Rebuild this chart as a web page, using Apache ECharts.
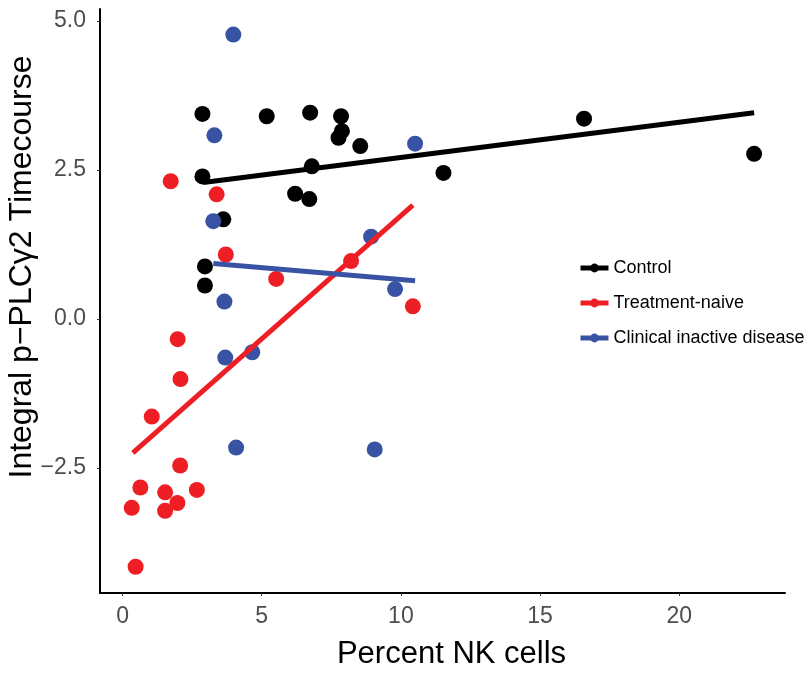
<!DOCTYPE html>
<html>
<head>
<meta charset="utf-8">
<script src="https://cdn.jsdelivr.net/npm/echarts@6/dist/echarts.min.js"></script>
<style>
  html, body { margin: 0; padding: 0; background: #fff; }
  #chart { width: 812px; height: 674px; }
</style>
</head>
<body>
<div id="chart"></div>
<script>
// points: [percent NK cells, integral p-PLCγ2]
var controlPts = [
  [2.87, 3.44], [2.87, 2.39], [5.18, 3.40], [6.74, 3.46], [7.85, 3.40],
  [7.88, 3.15], [7.76, 3.04], [8.54, 2.90], [6.80, 2.56], [6.20, 2.10],
  [6.71, 2.01], [11.53, 2.45], [16.58, 3.36], [22.69, 2.77], [3.62, 1.67],
  [2.96, 0.88], [2.96, 0.56]
]
var naivePts = [
  [1.73, 2.31], [3.38, 2.09], [3.71, 1.08], [5.52, 0.67], [8.21, 0.97],
  [10.43, 0.21], [1.98, -0.34], [2.08, -1.01], [1.05, -1.64], [2.07, -2.46],
  [0.64, -2.83], [1.53, -2.91], [2.67, -2.87], [1.97, -3.09], [0.33, -3.17],
  [1.53, -3.22], [0.47, -4.16]
]
var inactivePts = [
  [3.98, 4.77], [3.30, 3.08], [3.26, 1.64], [3.66, 0.29], [3.69, -0.65],
  [4.66, -0.56], [4.08, -2.16], [10.51, 2.94], [8.93, 1.38], [9.79, 0.50],
  [9.06, -2.19]
]
// fitted line ends
var controlFit = [[2.90, 2.29], [22.69, 3.46]]
var naiveFit = [[0.37, -2.25], [10.43, 1.91]]
var inactiveFit = [[3.26, 0.93], [10.51, 0.64]]

var groupNames = ['Control', 'Treatment-naive', 'Clinical inactive disease']
var groupColors = ['#000000', '#ED1F24', '#3953A4']
var xTicks = [0, 5, 10, 15, 20]
var yTicks = [-2.5, 0, 2.5, 5]

var font = 'Liberation Sans, Arial, Helvetica, sans-serif'
var chart = echarts.init(document.getElementById('chart'))

var fits = [controlFit, naiveFit, inactiveFit]
var pts = [controlPts, naivePts, inactivePts]
var series = []
// lines first so the legend takes their icon
for (var i = 0; i < 3; i++) {
  series.push({
    name: groupNames[i],
    type: 'line',
    data: fits[i],
    symbol: 'circle',
    symbolSize: 8,
    showSymbol: false,
    lineStyle: { color: groupColors[i], width: 5 },
    itemStyle: { color: groupColors[i] },
    z: 4,
    silent: true
  })
}
for (var j = 0; j < 3; j++) {
  series.push({
    name: groupNames[j],
    type: 'scatter',
    data: pts[j],
    symbolSize: 16,
    itemStyle: { color: groupColors[j], opacity: 1 },
    z: 3
  })
}

chart.setOption({
  animation: false,
  textStyle: { fontFamily: font },
  grid: { left: 100, right: 27, top: 9, bottom: 81, outerBoundsMode: 'none' },
  legend: {
    data: groupNames,
    orient: 'vertical',
    left: 573,
    top: 254,
    itemWidth: 28,
    itemHeight: 11,
    itemGap: 17,
    lineStyle: { width: 5 },
    textStyle: { fontSize: 18, color: '#000', fontFamily: font }
  },
  xAxis: {
    type: 'value',
    min: -0.81,
    max: 23.8,
    name: 'Percent NK cells',
    nameLocation: 'middle',
    nameGap: 46,
    nameTextStyle: { fontSize: 31, color: '#000', padding: [0, 0, 0, 18] },
    axisLine: { onZero: false, lineStyle: { color: '#000', width: 2 } },
    axisTick: { show: true, length: 3, customValues: xTicks, lineStyle: { color: '#333' } },
    axisLabel: { customValues: xTicks, fontSize: 23, color: '#4D4D4D', margin: 12 },
    splitLine: { show: false }
  },
  yAxis: {
    type: 'value',
    min: -4.6,
    max: 5.2,
    name: 'Integral p\u2212PLC\u03b32 Timecourse',
    nameLocation: 'middle',
    nameGap: 62,
    nameMoveOverlap: false,
    nameTextStyle: { fontSize: 32, color: '#000', padding: [0, 0, 0, 68] },
    axisLine: { onZero: false, lineStyle: { color: '#000', width: 2 } },
    axisTick: { show: true, length: 3, customValues: yTicks, lineStyle: { color: '#333' } },
    axisLabel: {
      customValues: yTicks,
      fontSize: 23,
      color: '#4D4D4D',
      margin: 14,
      formatter: function (v) { return v.toFixed(1).replace('-', '\u2212') }
    },
    splitLine: { show: false }
  },
  series: series
})
</script>
</body>
</html>
